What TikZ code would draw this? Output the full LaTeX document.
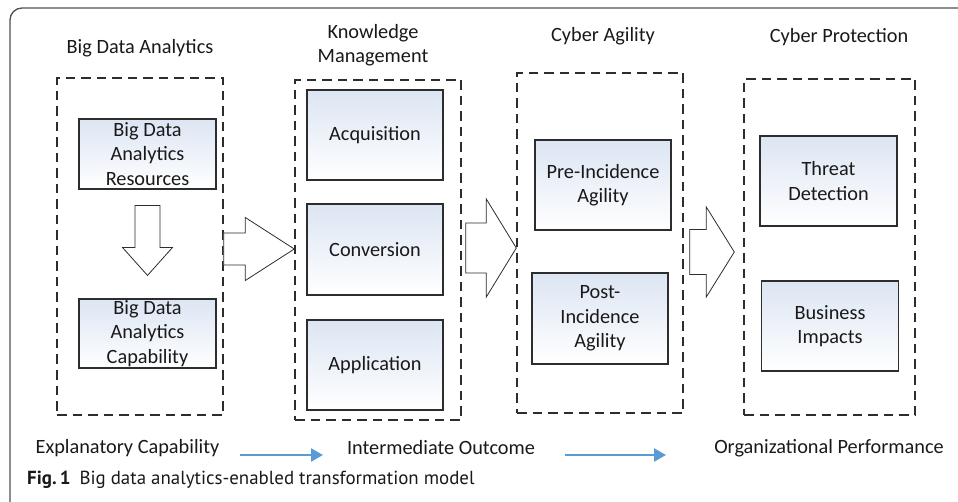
\documentclass[tikz,border=0pt]{standalone}
\usepackage{fontspec}
\setmainfont{Carlito}
\newfontfamily\capfont{PT Sans}
\usetikzlibrary{calc,arrows.meta}

\definecolor{framegray}{RGB}{80,80,80}
\definecolor{linegray}{RGB}{45,45,45}
\definecolor{boxtop}{RGB}{220,229,243}
\definecolor{glowblue}{RGB}{196,220,242}
\definecolor{flowblue}{RGB}{91,155,213}
\definecolor{txt}{RGB}{25,25,25}

\newcommand\diagfont{\fontsize{20.3}{24.5}\selectfont}

% block arrow pointing right: #1 start, #2 tip, #3 head length, #4 shaft half width, #5 head half width
\newcommand\blockright[5]{%
  \fill[glow,xshift=1.2pt,yshift=-2.2pt] let \p1=(#1), \p2=(#2) in
    (\x1,\y1+#4pt) -- (\x2-#3pt,\y1+#4pt) -- (\x2-#3pt,\y1+#5pt) -- (\x2,\y1)
    -- (\x2-#3pt,\y1-#5pt) -- (\x2-#3pt,\y1-#4pt) -- (\x1,\y1-#4pt) -- cycle;
  \draw[blockarrow] let \p1=(#1), \p2=(#2) in
    (\x1,\y1+#4pt) -- (\x2-#3pt,\y1+#4pt) -- (\x2-#3pt,\y1+#5pt) -- (\x2,\y1)
    -- (\x2-#3pt,\y1-#5pt) -- (\x2-#3pt,\y1-#4pt) -- (\x1,\y1-#4pt) -- cycle;}
% block arrow pointing down: #1 start, #2 tip, #3 head length, #4 shaft half width, #5 head half width
\newcommand\blockdown[5]{%
  \fill[glow,xshift=0.8pt,yshift=-2.2pt] let \p1=(#1), \p2=(#2) in
    (\x1-#4pt,\y1) -- (\x1-#4pt,\y2+#3pt) -- (\x1-#5pt,\y2+#3pt) -- (\x1,\y2)
    -- (\x1+#5pt,\y2+#3pt) -- (\x1+#4pt,\y2+#3pt) -- (\x1+#4pt,\y1) -- cycle;
  \draw[blockarrow] let \p1=(#1), \p2=(#2) in
    (\x1-#4pt,\y1) -- (\x1-#4pt,\y2+#3pt) -- (\x1-#5pt,\y2+#3pt) -- (\x1,\y2)
    -- (\x1+#5pt,\y2+#3pt) -- (\x1+#4pt,\y2+#3pt) -- (\x1+#4pt,\y1) -- cycle;}

\begin{document}
\begin{tikzpicture}[x=1pt,y=-1pt,
  group/.style={draw=linegray, line width=1.4pt, dash pattern=on 9.5pt off 6pt,
    inner sep=0pt, minimum width=#1},
  stage/.style={draw=linegray, line width=1.1pt, top color=boxtop, bottom color=white,
    inner sep=0pt, align=center, font=\diagfont, text=txt, minimum width=137pt},
  heading/.style={align=center, font=\diagfont, text=txt, inner sep=0pt},
  blockarrow/.style={draw=linegray, line width=0.8pt, fill=white, line join=miter},
  glow/.style={fill=glowblue},
  flow/.style={draw=flowblue, line width=2.4pt,
    -{Triangle[length=12pt,width=13pt]}}]

\useasboundingbox (0,0) rectangle (958,502);

% outer frame
\draw[framegray, line width=1.3pt, rounded corners=12pt] (10,8) rectangle (990,530);

% dashed stage groups
\node[group=166pt, minimum height=337pt] (g1) at (140,246.5) {};
\node[group=166pt, minimum height=340pt] (g2) at (378,250) {};
\node[group=166pt, minimum height=340pt] (g3) at (600,243) {};
\node[group=171pt, minimum height=336pt] (g4) at (829.5,247) {};

% headings
\node[heading] (h1) at (140,48) {Big Data Analytics};
\node[heading] (h2) at (373,45) {Knowledge\\Management};
\node[heading] (h3) at (603,36) {Cyber Agility};
\node[heading] (h4) at (839,37) {Cyber Protection};

% boxes
\node[stage, minimum height=70pt] (res) at (147.5,154) {Big Data\\Analytics\\Resources};
\node[stage, minimum height=69pt] (cap) at (147.5,333.5) {Big Data\\Analytics\\Capability};
\node[stage, minimum width=136pt, minimum height=90pt] (acq) at (375,135) {Acquisition};
\node[stage, minimum width=136pt, minimum height=91pt] (conv) at (375,249.5) {Conversion};
\node[stage, minimum width=136pt, minimum height=90pt] (app) at (375,365) {Application};
\node[stage, minimum width=136pt, minimum height=90pt] (pre) at (603,185) {Pre-Incidence\\Agility};
\node[stage, minimum width=136pt, minimum height=91pt] (post) at (600,318.5) {Post-\\Incidence\\Agility};
\node[stage, minimum height=90pt] (thr) at (828.5,181) {Threat\\Detection};
\node[stage, minimum height=90pt] (biz) at (830,326) {Business\\Impacts};

% block arrows
\coordinate (d1s) at ($(res.south)+(0,16)$);
\coordinate (d1t) at ($(cap.north)+(0,-23)$);
\blockdown{d1s}{d1t}{28}{12.5}{25}

\coordinate (a1s) at ($(g1.east)+(0,2.5)$);
\blockright{a1s}{g2.west}{49}{16}{31.5}
\coordinate (a2s) at ($(g2.east)+(4,-2)$);
\blockright{a2s}{g3.west}{30}{25}{49}
\coordinate (a3s) at ($(g3.east)+(6,9)$);
\coordinate (a3t) at ($(g4.west)+(-9,0)$);
\blockright{a3s}{a3t}{28}{22.5}{45}

% bottom row
\node[heading] (l1) at (127.5,448) {Explanatory Capability};
\node[heading] (l2) at (441,448) {Intermediate Outcome};
\node[heading] (l3) at (829,448) {Organizational Performance};
\coordinate (f1s) at (240,455);
\coordinate (f1t) at (323,455);
\coordinate (f2s) at (565,455);
\coordinate (f2t) at (666,455);
\draw[flow] (f1s) -- (f1t);
\draw[flow] (f2s) -- (f2t);

% caption
\node[anchor=west, inner sep=0pt, text=txt, font=\capfont\fontsize{18.9}{22}\selectfont]
  (capt) at (27,480) {\textbf{Fig.\,1}\hspace{9pt}Big data analytics-enabled transformation model};
\end{tikzpicture}
\end{document}
